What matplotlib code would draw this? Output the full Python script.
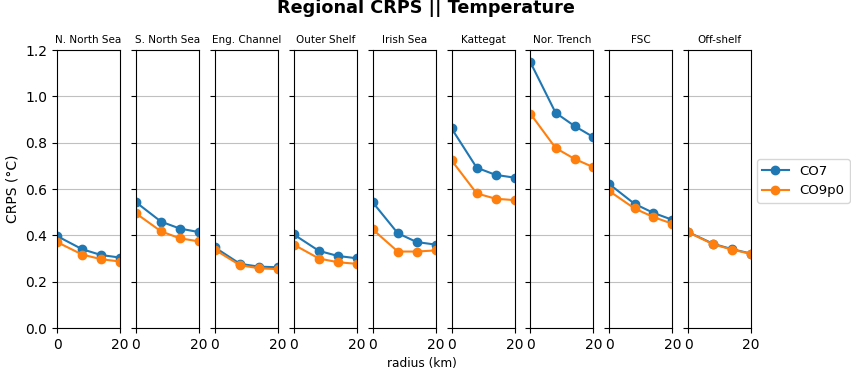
import numpy as np
import matplotlib
matplotlib.use("Agg")
import matplotlib.pyplot as plt

# radius sampled (km)
radius = [0, 8, 14, 20]

regions = ["N. North Sea", "S. North Sea", "Eng. Channel", "Outer Shelf", "Irish Sea",
           "Kattegat", "Nor. Trench", "FSC", "Off-shelf"]

co7 = [
    [0.397, 0.340, 0.315, 0.304],
    [0.543, 0.459, 0.429, 0.414],
    [0.348, 0.277, 0.265, 0.262],
    [0.404, 0.333, 0.311, 0.301],
    [0.543, 0.409, 0.371, 0.360],
    [0.862, 0.692, 0.661, 0.649],
    [1.147, 0.929, 0.872, 0.824],
    [0.621, 0.536, 0.497, 0.467],
    [0.414, 0.363, 0.340, 0.321],
]
co9p0 = [
    [0.371, 0.317, 0.297, 0.287],
    [0.495, 0.417, 0.387, 0.374],
    [0.338, 0.271, 0.258, 0.254],
    [0.360, 0.300, 0.284, 0.277],
    [0.426, 0.330, 0.330, 0.335],
    [0.724, 0.581, 0.558, 0.552],
    [0.925, 0.777, 0.730, 0.694],
    [0.591, 0.516, 0.479, 0.450],
    [0.413, 0.361, 0.338, 0.320],
]

W, H = 851, 375
fig = plt.figure(figsize=(W / 100, H / 100), dpi=100)

left0, step, width = 57, 78.9, 63
top, bottom = 50, 328

for i, name in enumerate(regions):
    ax = fig.add_axes([(left0 + i * step) / W, 1 - bottom / H, width / W, (bottom - top) / H])
    l1, = ax.plot(radius, co7[i], "-o", color="tab:blue", label="CO7")
    l2, = ax.plot(radius, co9p0[i], "-o", color="tab:orange", label="CO9p0")
    ax.set_xlim(0, 20)
    ax.set_ylim(0, 1.2)
    ax.set_xticks([0, 20])
    ax.set_yticks(np.arange(0, 1.21, 0.2))
    ax.yaxis.grid(True, color="#c0c0c0", linewidth=0.8)
    ax.set_axisbelow(True)
    ax.set_title(name, fontsize=7.5, pad=5)
    if i > 0:
        ax.set_yticklabels([])
    else:
        ax.set_ylabel("CRPS (°C)")

fig.text(0.5, 1 - 8 / H, "Regional CRPS || Temperature", ha="center", va="center",
         fontsize=12.7, fontweight="bold")
fig.text(422 / W, 1 - 364 / H, "radius (km)", ha="center", va="center", fontsize=8.7)
fig.legend(handles=[l1, l2], loc="center left", bbox_to_anchor=(757 / W, 1 - 181 / H),
           borderaxespad=0, fontsize=9.5)

fig.savefig("out.png", dpi=100)
